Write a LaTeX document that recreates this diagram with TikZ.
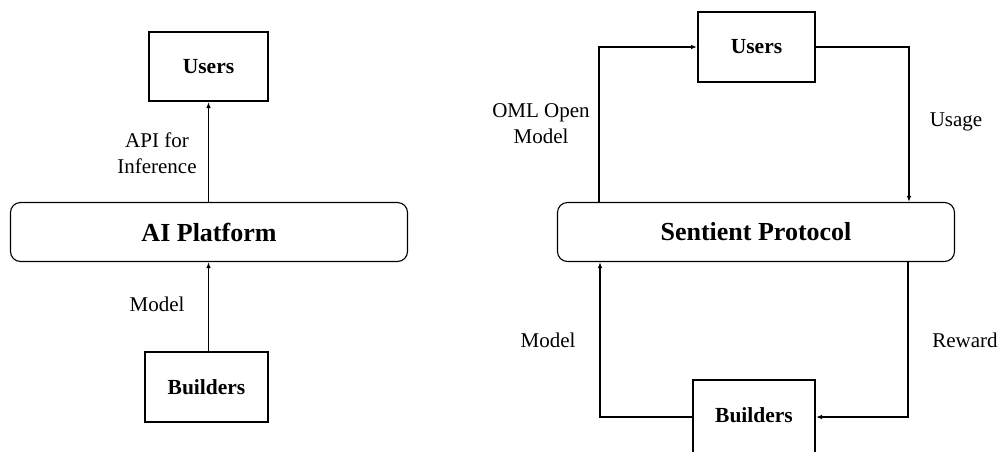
\documentclass[tikz,border=0pt]{standalone}
\usepackage{fontspec}
\setmainfont{Liberation Serif}
\usetikzlibrary{arrows.meta}
\begin{document}
\begin{tikzpicture}[x=1pt,y=-1pt,
 ent/.style={draw, line width=2pt, font=\fontsize{21.5}{24}\selectfont\bfseries, inner sep=0pt},
 plat/.style={draw, line width=1.1pt, rounded corners=10pt, font=\fontsize{26}{30}\selectfont\bfseries, minimum width=397pt, minimum height=59pt, inner sep=0pt},
 lab/.style={font=\fontsize{21}{26}\selectfont, align=center, inner sep=0pt},
 conn/.style={line width=1.1pt, -{Latex[length=6pt,width=4.5pt]}}
]
\useasboundingbox (0,0) rectangle (1001,451);
\clip (0,0) rectangle (1001,451);
% left panel
\node[ent, minimum width=119pt, minimum height=69pt] (u1) at (208.5,66.5) {Users};
\node[plat] (p1) at (209,232) {AI Platform};
\node[ent, minimum width=123pt, minimum height=70pt] (b1) at (206.5,387) {Builders};
\draw[conn] (p1.north -| u1) -- (u1.south);
\draw[conn] (b1.north -| u1) -- (p1.south -| u1);
\node[lab] (l1) at (157,153) {API for\\Inference};
\node[lab] (l2) at (157,304) {Model};
% right panel
\node[ent, minimum width=117pt, minimum height=70pt] (u2) at (756.5,47) {Users};
\node[plat] (p2) at (756,232) {Sentient Protocol};
\node[ent, minimum width=122pt, minimum height=80pt, text depth=10pt] (b2) at (754,420) {Builders};
\coordinate (tl) at (599,47);
\coordinate (tr) at (909,47);
\coordinate (bl) at (600,417);
\coordinate (br) at (908,417);
\draw[conn] (p2.north -| tl) -- (tl) -- (u2.west);
\draw[conn] (u2.east) -- (tr) -- (p2.north -| tr);
\draw[conn] (b2.west |- bl) -- (bl) -- (p2.south -| bl);
\draw[conn] (p2.south -| br) -- (br) -- (b2.east |- br);
\node[lab] (l3) at (541,124) {OML Open\\Model};
\node[lab] (l4) at (956,122) {Usage};
\node[lab] (l5) at (548,340) {Model};
\node[lab] (l6) at (965,340) {Reward};
\end{tikzpicture}
\end{document}
